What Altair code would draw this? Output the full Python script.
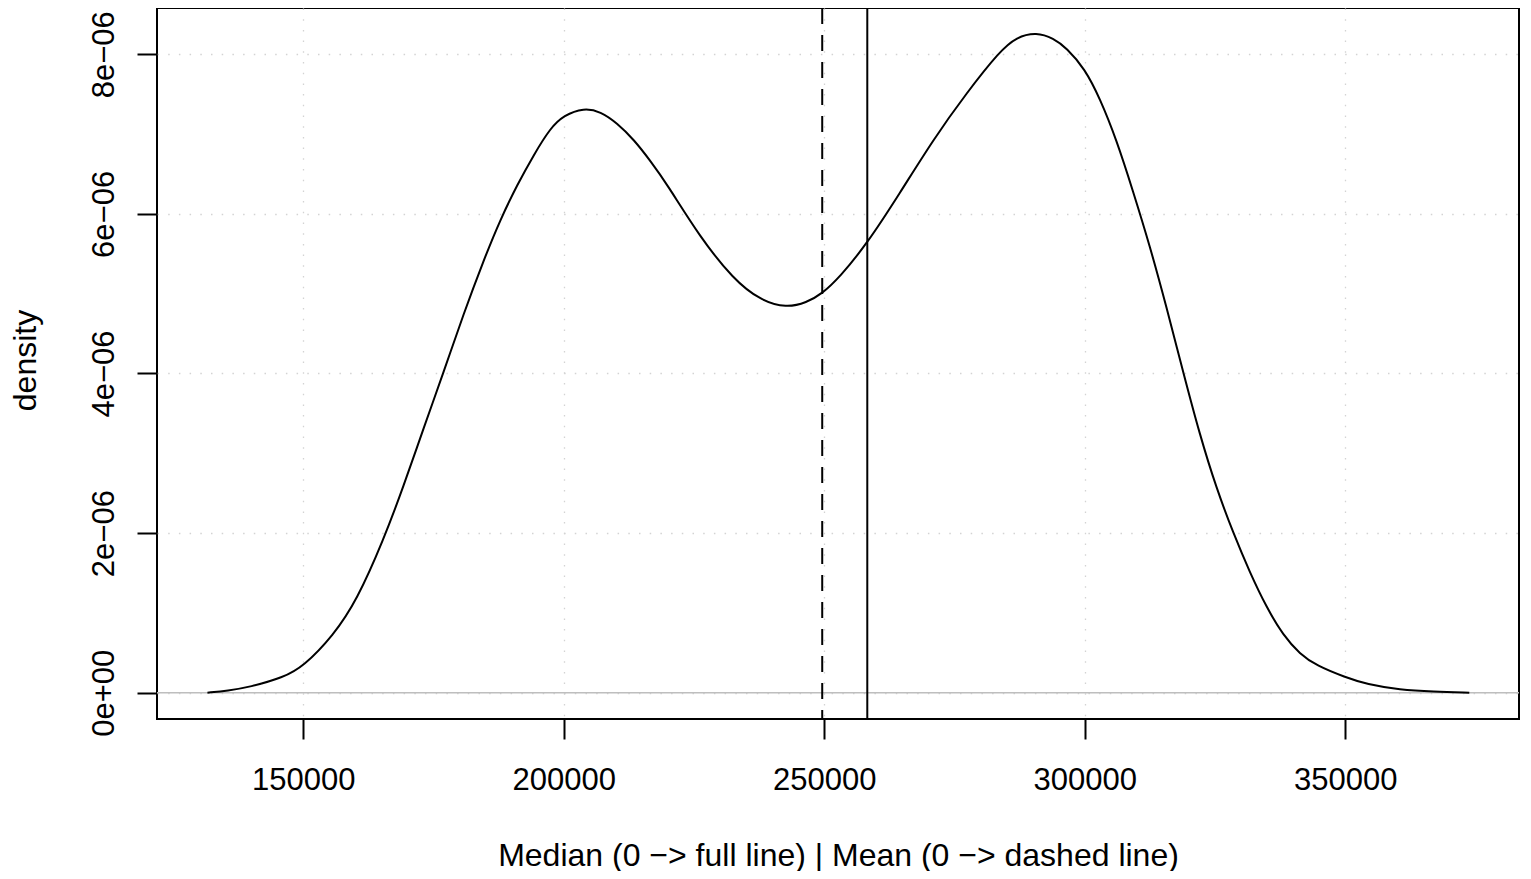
import altair as alt
import pandas as pd

# Density curve (x value, density in units of 1e-6)
x_vals = [131600, 135500, 139700, 146150, 150000, 155770, 160260, 165390, 169230,
          173080, 176920, 180770, 184620, 187820, 191030, 194230, 197440,
          200000, 203850, 207050, 210260, 213460, 216670, 219760, 226150,
          232540, 237660, 242780, 246610, 249490, 253000, 258120, 264510,
          270910, 277300, 283700, 286890, 290730, 294000, 296480, 300000,
          302880, 306080, 309280, 312480, 315690, 318890, 322090, 325290,
          328490, 331690, 334890, 338090, 341290, 344490, 350000, 354100,
          360500, 366900, 373800]
dens_e6 = [0.0, 0.025, 0.07, 0.19, 0.327, 0.718, 1.155, 1.914, 2.585,
           3.314, 4.015, 4.75, 5.42, 5.93, 6.36, 6.74, 7.078,
           7.235, 7.329, 7.282, 7.136, 6.93, 6.66, 6.378, 5.707,
           5.181, 4.919, 4.820, 4.890, 4.995, 5.211, 5.619, 6.261,
           6.932, 7.515, 8.041, 8.216, 8.276, 8.20, 8.08, 7.82,
           7.45, 6.93, 6.28, 5.60, 4.831, 4.015, 3.227, 2.556,
           2.001, 1.505, 1.068, 0.718, 0.484, 0.338, 0.193, 0.105,
           0.035, 0.012, 0.0]
UNIT = 1e-6

mean_value = 249600     # dashed line
median_value = 258250   # full line

x_ticks = [150000, 200000, 250000, 300000, 350000]
y_ticks = [0, 2e-6, 4e-6, 6e-6, 8e-6]
y_tick_labels = ["0e+00", "2e\u221206", "4e\u221206", "6e\u221206", "8e\u221206"]
x_title = "Median (0 \u2212> full line) | Mean (0 \u2212> dashed line)"
y_title = "density"

FONT = "Liberation Sans, Arial, Helvetica, sans-serif"
FS = 31
TFS = 32

curve = pd.DataFrame({"x": x_vals, "density": [d * UNIT for d in dens_e6]})
mean_df = pd.DataFrame({"x": [mean_value]})
median_df = pd.DataFrame({"x": [median_value]})
zero_df = pd.DataFrame({"y": [0.0]})

x_scale = alt.Scale(domain=[121919, 383339], nice=False, zero=False)
y_scale = alt.Scale(domain=[-0.3296e-6, 8.580e-6], nice=False, zero=False)

label_expr = "[" + ",".join("'" + s + "'" for s in y_tick_labels) + "][round(datum.value / 2e-6)]"

x_axis = alt.Axis(
    values=x_ticks, format="d", domain=False,
    tickSize=20, tickWidth=2, tickColor="black",
    labelFont=FONT, labelFontSize=FS, labelColor="black",
    labelBaseline="alphabetic", labelPadding=50, labelFlush=False, labelOverlap=False,
    grid=True, gridColor="#d3d3d3", gridDash=[1.5, 9.2], gridWidth=1.3,
    title=x_title, titleFont=FONT, titleFontSize=TFS, titleFontWeight="normal",
    titleColor="black", titleBaseline="alphabetic", titleY=146,
)
y_axis = alt.Axis(
    values=y_ticks, labelExpr=label_expr, domain=False,
    tickSize=20, tickWidth=2, tickColor="black",
    labelFont=FONT, labelFontSize=FS, labelColor="black",
    labelAngle=270, labelAlign="center", labelBaseline="alphabetic",
    labelPadding=24, labelFlush=False, labelOverlap=False,
    grid=True, gridColor="#d3d3d3", gridDash=[1.5, 9.2], gridWidth=1.3,
    title=y_title, titleFont=FONT, titleFontSize=TFS, titleFontWeight="normal",
    titleColor="black", titleAngle=270, titleAlign="center",
    titleBaseline="alphabetic", titleX=-122, titleY=352,
)

zero_line = alt.Chart(zero_df).mark_rule(color="#bebebe", strokeWidth=1.6).encode(
    y=alt.Y("y:Q", scale=y_scale, axis=y_axis)
)
line = alt.Chart(curve).mark_line(color="black", strokeWidth=2, interpolate="basis").encode(
    x=alt.X("x:Q", scale=x_scale, axis=x_axis),
    y=alt.Y("density:Q", scale=y_scale, axis=y_axis),
)
mean_rule = alt.Chart(mean_df).mark_rule(color="black", strokeWidth=2, strokeDash=[16, 11]).encode(
    x=alt.X("x:Q", scale=x_scale, axis=x_axis)
)
median_rule = alt.Chart(median_df).mark_rule(color="black", strokeWidth=2).encode(
    x=alt.X("x:Q", scale=x_scale, axis=x_axis)
)

chart = alt.layer(zero_line, line, mean_rule, median_rule).properties(
    width=1362, height=711,
    autosize=alt.AutoSizeParams(type="none"),
    padding={"left": 149, "top": 0, "right": 4, "bottom": 152},
    background="white",
).configure_view(stroke="black", strokeWidth=2)

chart.save("out.html", embed_options={"renderer": "svg", "actions": False})
